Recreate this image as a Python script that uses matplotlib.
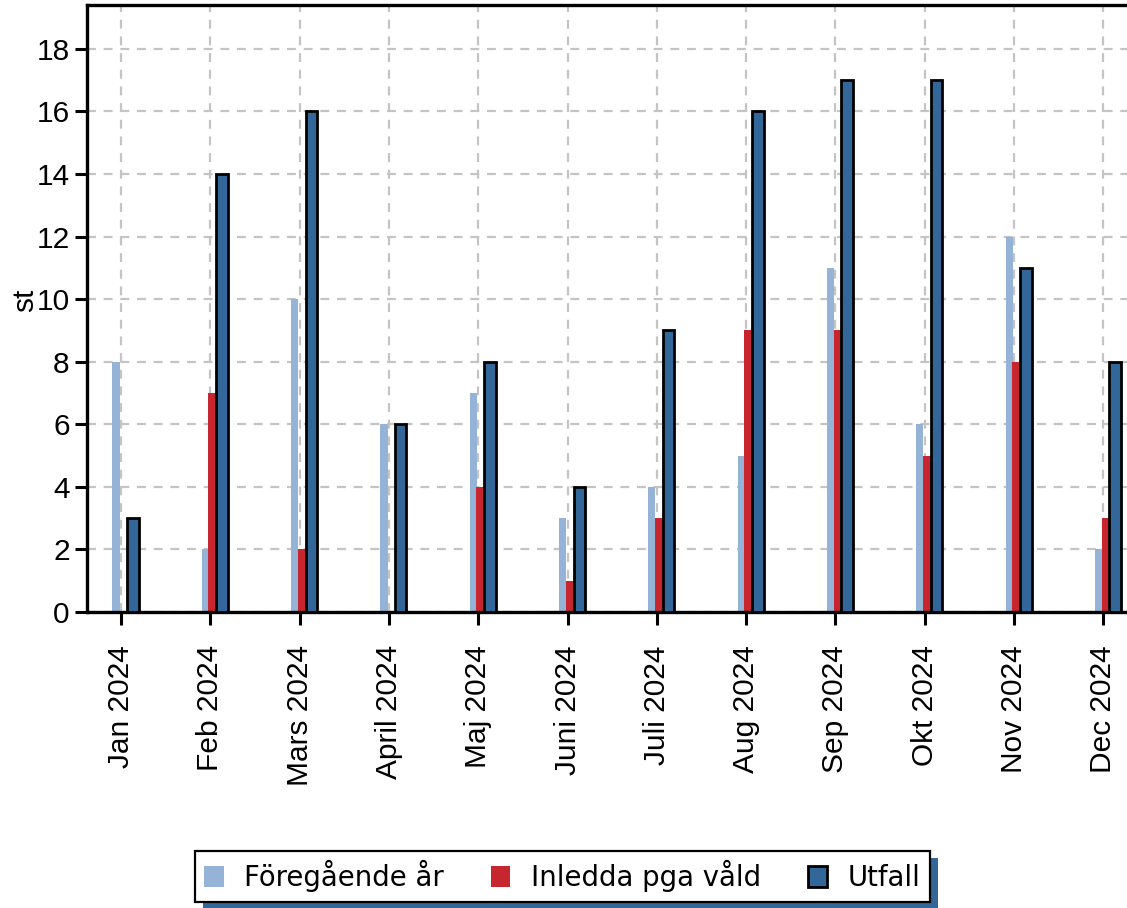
import matplotlib
matplotlib.use('Agg')
from matplotlib import pyplot as plt
from matplotlib.patches import Rectangle
import numpy as np

# Data
months = ['Jan 2024', 'Feb 2024', 'Mars 2024', 'April 2024', 'Maj 2024', 'Juni 2024',
          'Juli 2024', 'Aug 2024', 'Sep 2024', 'Okt 2024', 'Nov 2024', 'Dec 2024']
foregaende = [8, 2, 10, 6, 7, 3, 4, 5, 11, 6, 12, 2]
inledda = [0, 7, 2, 0, 4, 1, 3, 9, 9, 5, 8, 3]
utfall = [3, 14, 16, 6, 8, 4, 9, 16, 17, 17, 11, 8]

c_light = '#95B3D7'
c_red = '#C8262E'
c_dark = '#336699'

fig = plt.figure(figsize=(11.27, 9.08), dpi=100)
# axes runs past the right edge like in the reference
ax = fig.add_axes([0.0772, 0.326, 0.951, 0.6685])

x = np.arange(len(months))
ax.bar(x - 0.095, foregaende, width=0.08, align='edge', color=c_light,
       label='Föregående år', zorder=2)
ax.bar(x - 0.02, inledda, width=0.087, align='edge', color=c_red,
       label='Inledda pga våld', zorder=2)
ax.bar(x + 0.067, utfall, width=0.13, align='edge', color=c_dark,
       edgecolor='black', linewidth=2, label='Utfall', zorder=3)

ax.set_xlim(-0.38, 11.62)
ax.set_ylim(0, 19.4)
ax.set_yticks(np.arange(0, 19, 2))
ax.set_xticks(x)
ax.set_xticklabels(months, rotation=90, fontfamily='Liberation Sans')
for t in ax.get_yticklabels():
    t.set_fontfamily('Liberation Sans')
ax.tick_params(axis='both', labelsize=21.5, length=9, width=2.2, color='black')
ax.tick_params(axis='x', pad=15)

ax.grid(True, color='#c4c4c4', linestyle=(0, (4, 3.5)), linewidth=1.6, zorder=0)
ax.set_axisbelow(True)

for s in ['left', 'bottom', 'top']:
    ax.spines[s].set_linewidth(2.4)
    ax.spines[s].set_color('black')
ax.spines['right'].set_visible(False)

ax.set_ylabel('st', fontsize=21.5, fontfamily='Liberation Sans')
ax.yaxis.set_label_coords(-0.0445, 0.514)

leg = fig.legend(loc='center', bbox_to_anchor=(0.499, 0.035), ncol=3,
                 prop={'family': 'DejaVu Sans', 'size': 19.8},
                 frameon=True, fancybox=False, handlelength=0.7, handleheight=0.8,
                 handletextpad=0.75, columnspacing=1.7, borderpad=0.35,
                 borderaxespad=0, edgecolor='black', framealpha=1)
leg.get_frame().set_linewidth(1.6)

# blue drop shadow behind the legend box
fig.canvas.draw()
bb = leg.get_frame().get_window_extent()
shadow = Rectangle((bb.x0 + 8, bb.y0 - 7), bb.width, bb.height, transform=None,
                   facecolor=c_dark, edgecolor='none', zorder=leg.get_zorder() - 1)
fig.add_artist(shadow)

fig.savefig('out.png', dpi=100)
